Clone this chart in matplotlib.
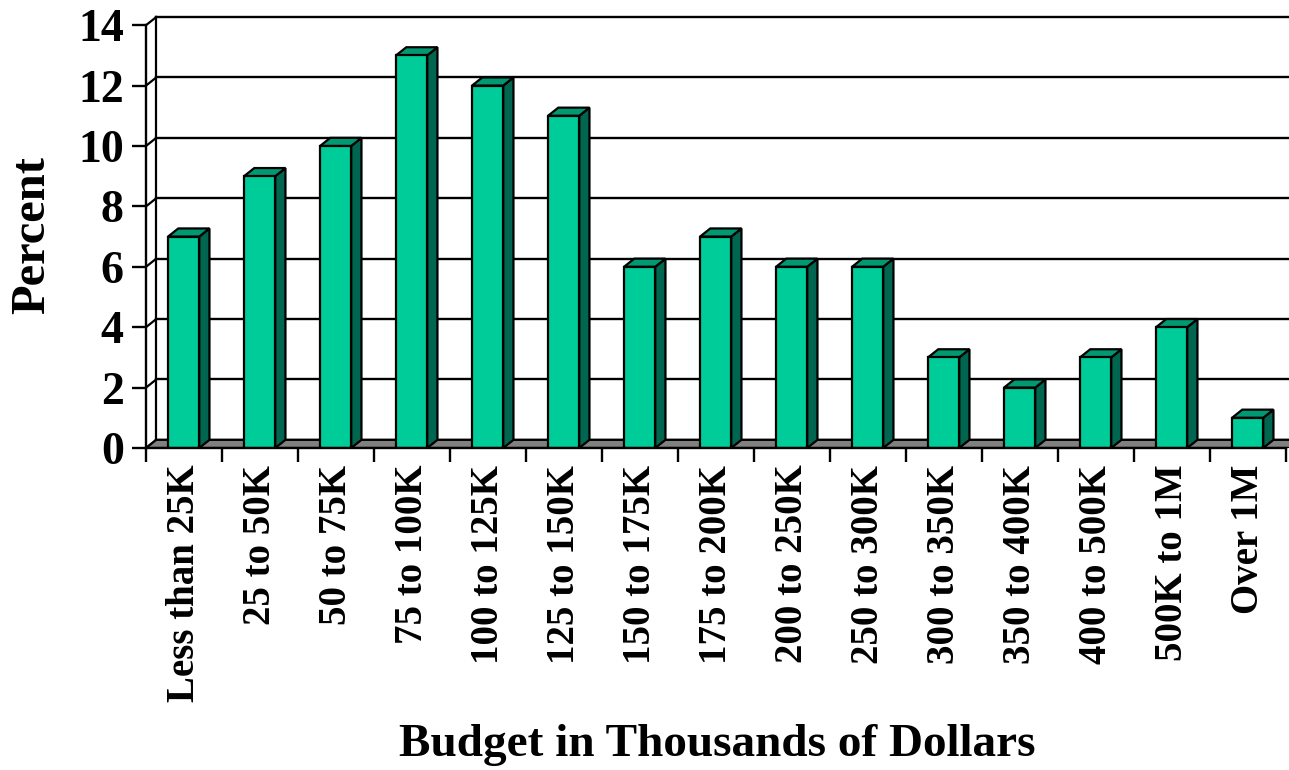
import matplotlib
matplotlib.use("Agg")
import matplotlib.pyplot as plt
from matplotlib.patches import Polygon, Rectangle

categories = ["Less than 25K", "25 to 50K", "50 to 75K", "75 to 100K", "100 to 125K",
              "125 to 150K", "150 to 175K", "175 to 200K", "200 to 250K", "250 to 300K",
              "300 to 350K", "350 to 400K", "400 to 500K", "500K to 1M", "Over 1M"]
percent = [7, 9, 10, 13, 12, 11, 6, 7, 6, 6, 3, 2, 3, 4, 1]
yticks = [0, 2, 4, 6, 8, 10, 12, 14]

plt.rcParams['font.family'] = ['Liberation Serif', 'DejaVu Serif']
plt.rcParams['font.weight'] = 'bold'

W, H = 1289, 770
fig = plt.figure(figsize=(W / 100, H / 100), dpi=100)
ax = fig.add_axes([146 / W, (H - 448) / H, (W - 146) / W, 448 / H])
n = len(categories)
ax.set_xlim(0, (W - 146) / 76)
ax.set_ylim(0, 448 / 30.2)

# depth offset of the fake 3d
dx, dy = 0.135, 0.27
front = '#00cc99'
side = '#006650'
top = '#009972'
lw = 1.6

# back wall gridlines
for v in yticks:
    ax.plot([dx, n + dx + 1], [v + dy, v + dy], color='black', lw=1.7, zorder=1, clip_on=False)
    ax.plot([0, dx], [v, v + dy], color='black', lw=lw, zorder=1)
ax.plot([dx, dx], [dy, 14 + dy], color='black', lw=lw, zorder=1)

# floor
ax.add_patch(Polygon([(0, 0), (n + 1, 0), (n + 1 + dx, dy), (dx, dy)], closed=True,
                     facecolor='#808080', edgecolor='black', lw=lw, zorder=2))

# bars
bw, off = 0.41, 0.29
for i, v in enumerate(percent):
    x0 = i + off
    x1 = x0 + bw
    ax.add_patch(Polygon([(x1, 0), (x1 + dx, dy), (x1 + dx, v + dy), (x1, v)], closed=True,
                         facecolor=side, edgecolor='black', lw=lw, zorder=3))
    ax.add_patch(Polygon([(x0, v), (x1, v), (x1 + dx, v + dy), (x0 + dx, v + dy)], closed=True,
                         facecolor=top, edgecolor='black', lw=lw, zorder=3))
    ax.add_patch(Rectangle((x0, 0), bw, v, facecolor=front, edgecolor='black', lw=lw, zorder=4))

for s in ['top', 'right']:
    ax.spines[s].set_visible(False)
ax.spines['left'].set_bounds(0, 14)
ax.spines['bottom'].set_bounds(0, n)
ax.spines['left'].set_linewidth(1.7)
ax.spines['bottom'].set_linewidth(1.7)
ax.spines['left'].set_zorder(5)
ax.spines['bottom'].set_zorder(5)

ax.set_yticks(yticks)
ax.set_yticklabels([str(t) for t in yticks], fontsize=33, fontweight='bold')
ax.tick_params(axis='y', length=10, width=1.7, pad=6)

ax.set_xticks(range(n + 1), minor=True)
ax.set_xticks([i + 0.5 for i in range(n)])
ax.set_xticklabels(categories, rotation=90, fontsize=28, fontweight='bold', va='top')
ax.tick_params(axis='x', which='major', length=0, pad=12)
ax.tick_params(axis='x', which='minor', length=10, width=1.7)

fig.text(717 / W, 1 - 745 / H, 'Budget in Thousands of Dollars', ha='center', va='center',
         fontsize=34, fontweight='bold')
fig.text(32 / W, 1 - 235 / H, 'Percent', ha='center', va='center', rotation=90,
         fontsize=35, fontweight='bold')

fig.savefig('out.png', dpi=100)
